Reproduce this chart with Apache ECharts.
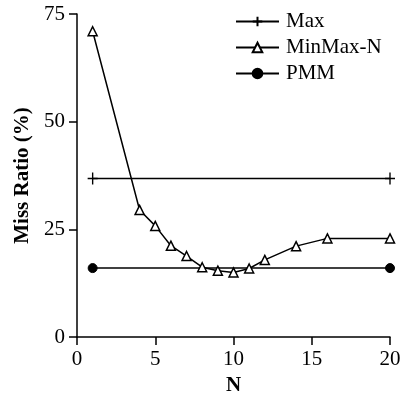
<!DOCTYPE html>
<html>
<head>
<meta charset="utf-8">
<script src="https://cdn.jsdelivr.net/npm/echarts@6/dist/echarts.min.js"></script>
<style>html,body{margin:0;padding:0;background:#fff;}#c{width:409px;height:397px;}</style>
</head>
<body>
<div id="c"></div>
<script>
const seriesNames = ['Max', 'MinMax-N', 'PMM'];
const maxN = [1, 20];
const maxVals = [36.8, 36.8];
const minmaxN = [1, 4, 5, 6, 7, 8, 9, 10, 11, 12, 14, 16, 20];
const minmaxVals = [71, 29.5, 25.8, 21.2, 18.8, 16.2, 15.4, 15.0, 15.9, 17.9, 21.1, 22.9, 22.9];
const pmmN = [1, 20];
const pmmVals = [16, 16];
const xTicks = [0, 5, 10, 15, 20];
const yTicks = [0, 25, 50, 75];

const pair = (xs, ys) => xs.map((x, i) => [x, ys[i]]);
const font = 'Liberation Serif';
const plus = 'path://M5,0 L5,10 M0,5 L10,5';

const chart = echarts.init(document.getElementById('c'), null, {renderer: 'canvas'});
chart.setOption({
  animation: false,
  backgroundColor: '#fff',
  grid: {left: 77, right: 19, top: 14, bottom: 60, containLabel: false, outerBoundsMode: 'none'},
  legend: {
    orient: 'vertical', left: 230, top: 6,
    itemWidth: 43, itemHeight: 12, itemGap: 5,
    textStyle: {fontFamily: font, fontSize: 21, color: '#000', padding: [0, 0, 0, 2]},
    data: seriesNames
  },
  xAxis: {
    type: 'value', min: 0, max: 20, interval: 5,
    name: 'N', nameLocation: 'middle', nameGap: 37,
    nameTextStyle: {fontFamily: font, fontSize: 21, fontWeight: 'bold', color: '#000'},
    axisLine: {show: true, lineStyle: {color: '#000', width: 1.5}},
    axisTick: {show: true, inside: false, length: 8, lineStyle: {color: '#000', width: 1.5}},
    axisLabel: {fontFamily: font, fontSize: 21, color: '#000', margin: 12,
      formatter: v => xTicks.includes(v) ? String(v) : ''},
    splitLine: {show: false}
  },
  yAxis: {
    type: 'value', min: 0, max: 75, interval: 25,
    name: 'Miss Ratio (%)', nameLocation: 'middle', nameGap: 41, nameRotate: 90,
    nameTextStyle: {fontFamily: font, fontSize: 21, fontWeight: 'bold', color: '#000'},
    axisLine: {show: true, lineStyle: {color: '#000', width: 1.5}},
    axisTick: {show: true, inside: false, length: 8, lineStyle: {color: '#000', width: 1.5}},
    axisLabel: {fontFamily: font, fontSize: 21, color: '#000', margin: 12,
      formatter: v => yTicks.includes(v) ? String(v) : ''},
    splitLine: {show: false}
  },
  series: [
    {
      name: seriesNames[0], type: 'line', data: pair(maxN, maxVals),
      symbol: plus, symbolSize: [10, 12], showAllSymbol: true,
      lineStyle: {color: '#000', width: 1.5},
      itemStyle: {color: 'rgba(0,0,0,0)', borderColor: '#000', borderWidth: 1.5}
    },
    {
      name: seriesNames[1], type: 'line', data: pair(minmaxN, minmaxVals),
      symbol: 'triangle', symbolSize: 9, showAllSymbol: true,
      lineStyle: {color: '#000', width: 1.5},
      itemStyle: {color: '#fff', borderColor: '#000', borderWidth: 1.5}
    },
    {
      name: seriesNames[2], type: 'line', data: pair(pmmN, pmmVals),
      symbol: 'circle', symbolSize: 9, showAllSymbol: true,
      lineStyle: {color: '#000', width: 1.5},
      itemStyle: {color: '#000', borderColor: '#000', borderWidth: 1}
    }
  ]
});
</script>
</body>
</html>
